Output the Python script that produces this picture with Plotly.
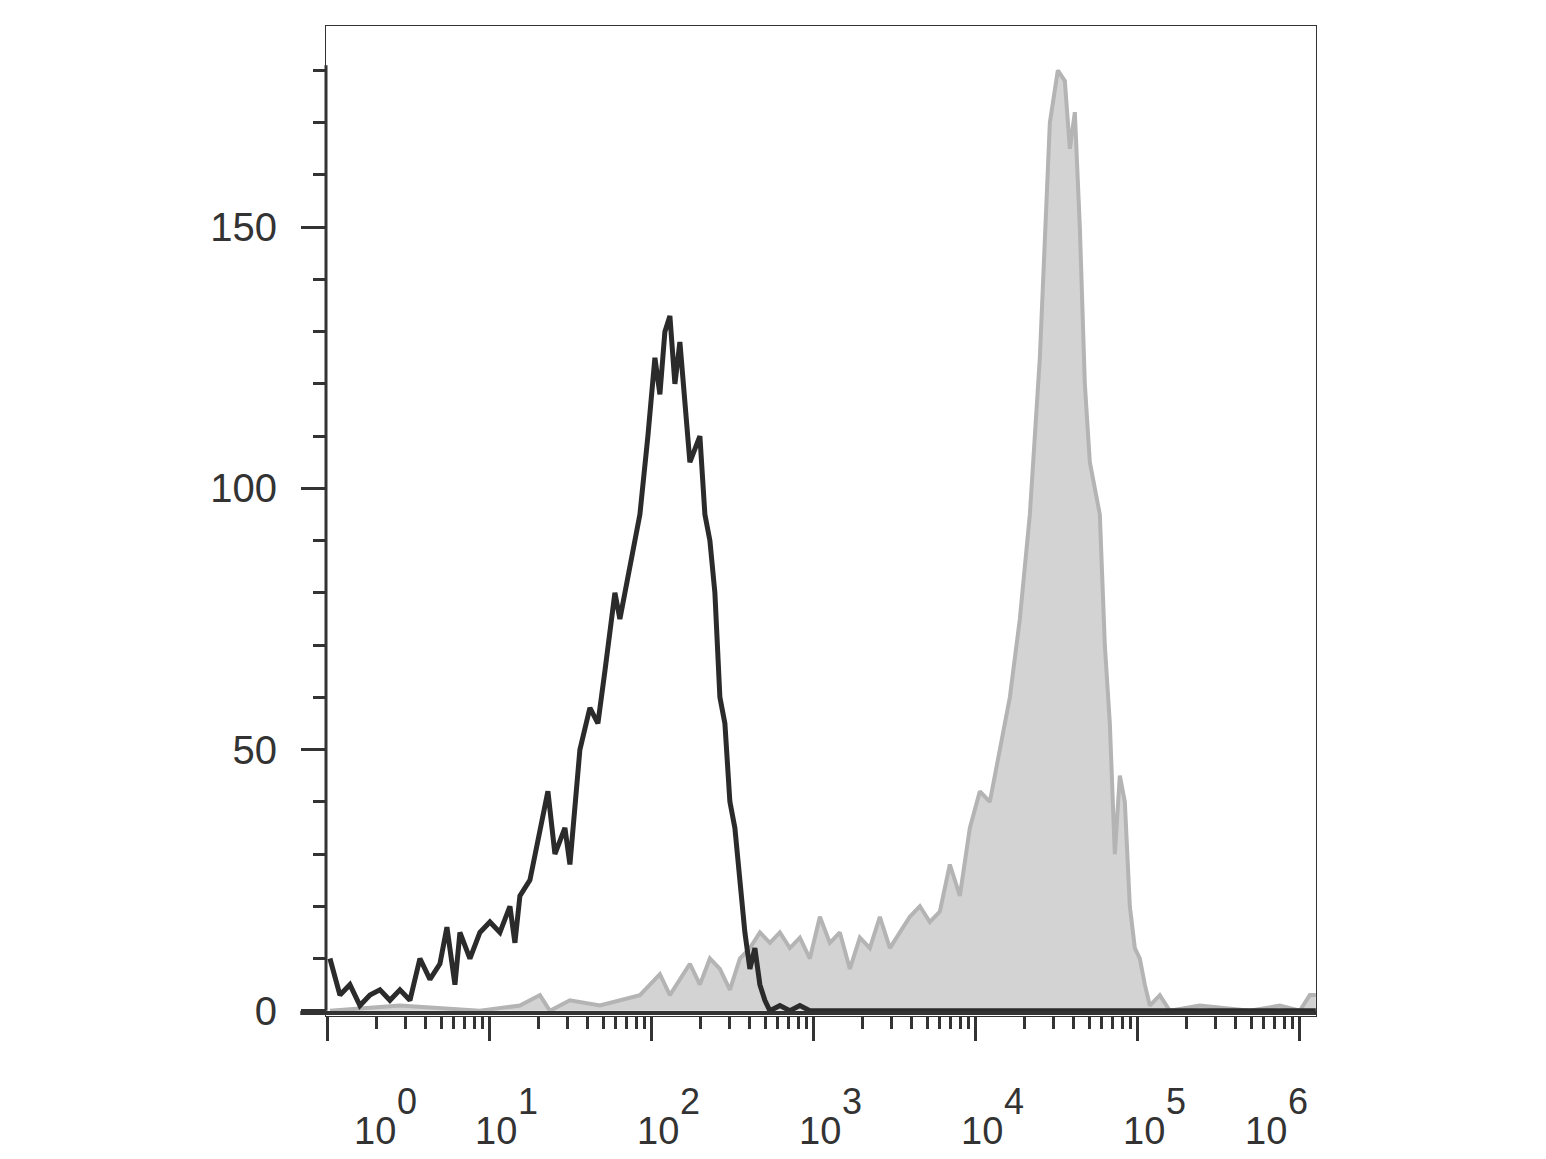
import numpy as np
import plotly.graph_objects as go

# Channel positions (pixel-read, converted to decades) and event counts.
black_px = [330, 340, 350, 360, 370, 380, 390, 400, 410, 420, 430, 440, 447, 455, 460, 470, 480, 490,
            500, 510, 515, 520, 530, 540, 548, 555, 565, 570, 575, 580, 590, 598, 605, 615, 620, 630,
            640, 648, 655, 660, 665, 670, 675, 680, 685, 690, 700, 705, 710, 715, 720, 725, 730, 735,
            740, 745, 750, 755, 760, 765, 770, 780, 790, 800, 810, 1316]
black_counts = [10, 3, 5, 1, 3, 4, 2, 4, 2, 10, 6, 9, 16, 5, 15, 10, 15, 17,
                15, 20, 13, 22, 25, 35, 42, 30, 35, 28, 40, 50, 58, 55, 65, 80, 75, 85,
                95, 110, 125, 118, 130, 133, 120, 128, 115, 105, 110, 95, 90, 80, 60, 55, 40, 35,
                25, 15, 8, 12, 5, 2, 0, 1, 0, 1, 0, 0]

gray_px = [330, 400, 480, 520, 540, 550, 570, 600, 640, 660, 670, 690, 700, 710, 720, 730, 740, 750,
           760, 770, 780, 790, 800, 810, 820, 830, 840, 850, 860, 870, 880, 890, 900, 910, 920, 930,
           940, 950, 960, 970, 980, 990, 1000, 1010, 1020, 1030, 1040, 1045, 1050, 1058, 1065, 1070,
           1075, 1080, 1085, 1090, 1100, 1105, 1110, 1115, 1120, 1125, 1130, 1135, 1140, 1145, 1150,
           1160, 1170, 1200, 1250, 1280, 1300, 1310, 1316]
gray_counts = [0, 1, 0, 1, 3, 0, 2, 1, 3, 7, 3, 9, 5, 10, 8, 4, 10, 12,
               15, 13, 15, 12, 14, 10, 18, 13, 15, 8, 14, 12, 18, 12, 15, 18, 20, 17,
               19, 28, 22, 35, 42, 40, 50, 60, 75, 95, 125, 150, 170, 180, 178, 165,
               172, 150, 120, 105, 95, 70, 55, 30, 45, 40, 20, 12, 10, 5, 1,
               3, 0, 1, 0, 1, 0, 3, 3]

decade_exps = ["0", "1", "2", "3", "4", "5", "6"]
label_pos = [0.35, 1.1, 2.1, 3.1, 4.1, 5.1, 5.85]


def to_decade(px):
    return [(p - 328) / 162 for p in px]


fig = go.Figure()
fig.add_trace(go.Scatter(x=to_decade(gray_px), y=gray_counts, mode="lines", fill="tozeroy",
                         fillcolor="#d3d3d3", line=dict(color="#b4b4b4", width=4)))
fig.add_trace(go.Scatter(x=to_decade(black_px), y=black_counts, mode="lines",
                         line=dict(color="#2b2b2b", width=5)))

for exp, xp in zip(decade_exps, label_pos):
    fig.add_annotation(x=xp, y=0, yref="paper", yshift=-115, xshift=-10, text="10",
                       showarrow=False, font=dict(size=38, color="#333"),
                       xanchor="center", yanchor="middle")
    fig.add_annotation(x=xp, y=0, yref="paper", yshift=-85, xshift=22, text=exp,
                       showarrow=False, font=dict(size=36, color="#333"),
                       xanchor="center", yanchor="middle")

major_x = list(range(7))
minor_x = [d + np.log10(m) for d in range(6) for m in range(2, 10) if d + np.log10(m) < 6.1]

fig.update_layout(
    width=1546, height=1159, showlegend=False,
    paper_bgcolor="white", plot_bgcolor="white",
    margin=dict(l=318, r=238, t=18, b=151),
    font=dict(family="Arial, Liberation Sans", color="#333"),
    xaxis=dict(range=[-0.012, 6.1], tickvals=major_x, showticklabels=False, ticks="outside",
               ticklen=24, tickwidth=3, tickcolor="#333", showgrid=False, zeroline=False,
               showline=True, linecolor="#333", linewidth=1, mirror=True, automargin=False,
               minor=dict(tickvals=minor_x, ticks="outside", ticklen=12, tickwidth=3,
                          tickcolor="#333")),
    yaxis=dict(range=[-1, 188.5], tickvals=[0, 50, 100, 150], ticks="outside", ticklen=24,
               tickwidth=3, tickcolor="#333", tickfont=dict(size=40, color="#333"),
               ticklabelstandoff=16, showgrid=False, zeroline=False, automargin=False,
               showline=True, linecolor="#333", linewidth=1, mirror=True,
               minor=dict(dtick=10, ticks="outside", ticklen=12, tickwidth=3, tickcolor="#333")),
)
# thick axis lines
fig.add_shape(type="line", xref="paper", yref="y", x0=0, x1=0, y0=0, y1=181,
              line=dict(color="#333", width=3))
fig.add_shape(type="line", xref="paper", yref="paper", x0=-0.026, x1=1, y0=0.003, y1=0.003,
              line=dict(color="#333", width=4))

fig.write_html("out.html")
